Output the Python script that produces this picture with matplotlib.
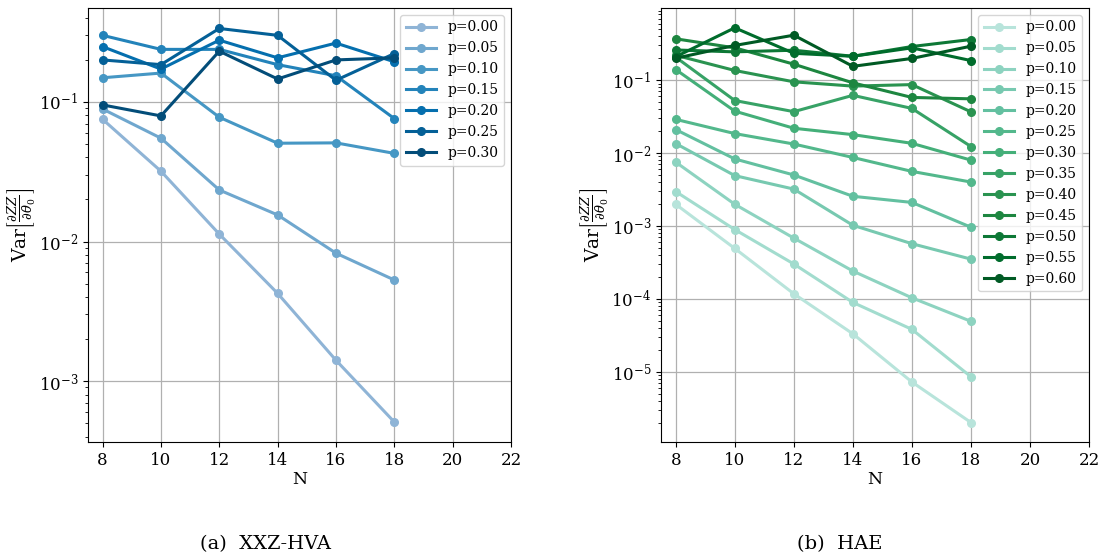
import numpy as np
import matplotlib
matplotlib.use("Agg")
import matplotlib.pyplot as plt

plt.rcParams['font.family'] = ['DejaVu Serif']
plt.rcParams['mathtext.fontset'] = 'dejavuserif'

N = [8, 10, 12, 14, 16, 18]

# (a) XXZ-HVA
p_left = ["0.00", "0.05", "0.10", "0.15", "0.20", "0.25", "0.30"]
var_left = [
    [0.0751, 0.0319, 0.0113, 0.00425, 0.00141, 0.000509],
    [0.089, 0.055, 0.0234, 0.0155, 0.00825, 0.0053],
    [0.149, 0.161, 0.0777, 0.0506, 0.0509, 0.0428],
    [0.300, 0.238, 0.238, 0.185, 0.154, 0.076],
    [0.249, 0.172, 0.277, 0.207, 0.264, 0.194],
    [0.200, 0.185, 0.336, 0.300, 0.143, 0.222],
    [0.0952, 0.0794, 0.231, 0.146, 0.200, 0.207],
]

# (b) HAE
p_right = ["0.00", "0.05", "0.10", "0.15", "0.20", "0.25", "0.30",
           "0.35", "0.40", "0.45", "0.50", "0.55", "0.60"]
var_right = [
    [0.00198, 0.00049, 0.000117, 3.3e-5, 7.2e-6, 2.0e-6],
    [0.00296, 0.00089, 0.0003, 8.9e-5, 3.8e-5, 8.5e-6],
    [0.0075, 0.00198, 0.00068, 0.00024, 0.000103, 4.9e-5],
    [0.0135, 0.0049, 0.0032, 0.00102, 0.00057, 0.00035],
    [0.021, 0.0083, 0.0050, 0.00255, 0.0021, 0.00096],
    [0.029, 0.0185, 0.0133, 0.0087, 0.0056, 0.0040],
    [0.14, 0.0376, 0.0219, 0.0179, 0.0136, 0.0080],
    [0.207, 0.0526, 0.037, 0.062, 0.041, 0.0123],
    [0.22, 0.136, 0.095, 0.083, 0.087, 0.0368],
    [0.37, 0.278, 0.166, 0.092, 0.058, 0.0555],
    [0.26, 0.245, 0.258, 0.213, 0.29, 0.362],
    [0.21, 0.524, 0.234, 0.213, 0.278, 0.186],
    [0.20, 0.30, 0.415, 0.155, 0.199, 0.293],
]

captions = ["(a)  XXZ-HVA", "(b)  HAE"]

fig = plt.figure(figsize=(11.04, 5.56), dpi=100)
axL = fig.add_axes([88/1104, 1-442/556, (511-88)/1104, (442-8)/556])
axR = fig.add_axes([661/1104, 1-442/556, (1089-661)/1104, (442-8)/556])

colsL = plt.cm.PuBu(np.linspace(0.43, 0.92, len(p_left)))
colsR = plt.cm.BuGn(np.linspace(0.30, 0.93, len(p_right)))

ylabel = r'$\mathrm{Var}\left[\frac{\partial ZZ}{\partial \theta_0}\right]$'

for ax, plist, data, cols, ylim in [
    (axL, p_left, var_left, colsL, (3.66e-4, 0.471)),
    (axR, p_right, var_right, colsR, (1.08e-6, 0.98)),
]:
    for p, v, c in zip(plist, data, cols):
        ax.plot(N, v, '-o', color=c, lw=2.2, ms=5.5, label=f"p={p}")
    ax.set_yscale('log')
    ax.set_xlim(7.5, 22)
    ax.set_ylim(*ylim)
    ax.set_xticks([8, 10, 12, 14, 16, 18, 20, 22])
    ax.grid(True, which='major', color='#b0b0b0', lw=0.9)
    ax.set_axisbelow(True)
    ax.tick_params(labelsize=12)
    ax.set_xlabel('N', fontsize=12.5, labelpad=2)
    ax.set_ylabel(ylabel, fontsize=13.5, labelpad=1)
    ax.legend(loc='upper right', fontsize=10, handlelength=2.2,
              labelspacing=0.5, borderaxespad=0.5, framealpha=0.8)

fig.text(266/1104, 1-544/556, captions[0], ha='center', va='center', fontsize=14)
fig.text(840/1104, 1-544/556, captions[1], ha='center', va='center', fontsize=14)

fig.savefig('out.png', dpi=100)
